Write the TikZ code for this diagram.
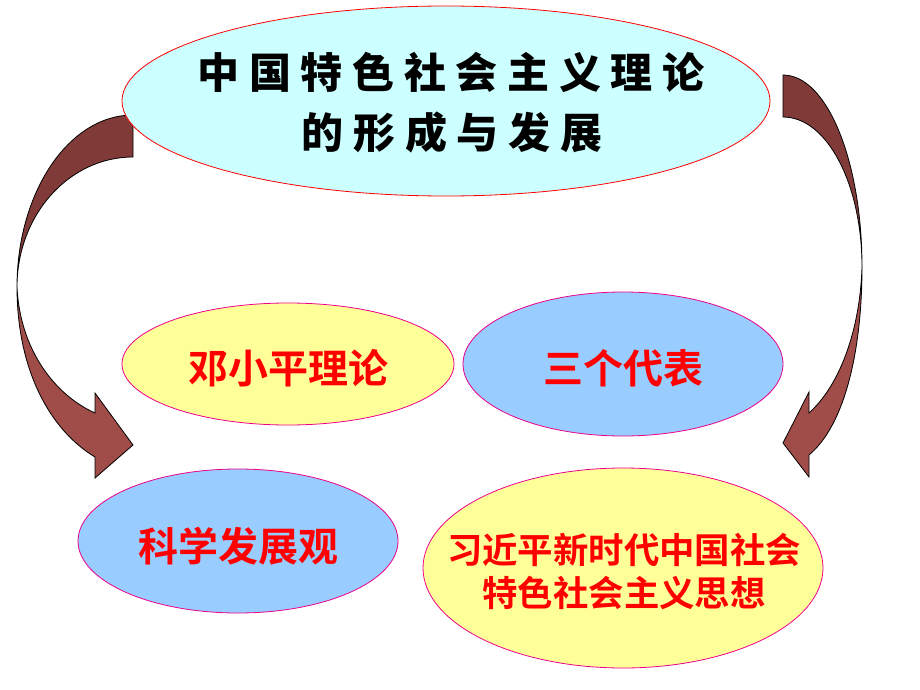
\documentclass[tikz,border=0pt]{standalone}
\usepackage{fontspec}
\usetikzlibrary{shapes.geometric}
\newfontfamily\titlefont[LetterSpace=23]{Noto Sans CJK SC Black}
\newfontfamily\redfont{Noto Sans CJK SC Bold}
\definecolor{titlefill}{HTML}{CCFFFF}
\definecolor{yelfill}{HTML}{FFFF99}
\definecolor{bluefill}{HTML}{99CCFF}
\definecolor{arrdark}{HTML}{803B39}
\definecolor{arrlight}{HTML}{A04C48}
\tikzset{
  oval/.style={ellipse, inner sep=0pt, line width=0.8pt},
  redtext/.style={text=red, font=\redfont\fontsize{40}{48}\selectfont, inner sep=0pt, align=center},
  titletext/.style={inner sep=0pt, font=\titlefont\fontsize{42}{60}\selectfont},
  arrowpart/.style={draw=black, line width=0.8pt, line join=miter}
}
\begin{document}
\begin{tikzpicture}[x=1pt,y=-1pt]
\useasboundingbox (0,0) rectangle (920,690);
\fill[white] (0,0) rectangle (920,690);
% curved block arrows
\filldraw[arrowpart, fill=arrdark] (133,115) .. controls (69,115) and (17,192) .. (17,287)
  .. controls (17,215) and (69,157) .. (133,157) -- cycle;
\filldraw[arrowpart, fill=arrlight] (17,287) .. controls (17,370) and (50,430) .. (95,457)
  -- (95,478) -- (133,445) -- (95,393) -- (95,413)
  .. controls (55,395) and (20,350) .. (17,287) -- cycle;
\filldraw[arrowpart, fill=arrdark] (783,75) .. controls (827,75) and (862,161) .. (862,267)
  .. controls (862,184) and (827,117) .. (783,117) -- cycle;
\filldraw[arrowpart, fill=arrlight] (862,267) .. controls (862,350) and (845,425) .. (809,455)
  -- (809,477) -- (783,443) -- (809,392) -- (809,413)
  .. controls (840,385) and (860,330) .. (862,267) -- cycle;
% ellipses
\node[oval, draw=red, fill=titlefill, minimum width=648pt, minimum height=190pt] (title) at (446,101) {};
\node[oval, draw=magenta, fill=yelfill, minimum width=332pt, minimum height=122pt] (deng) at (288,364) {};
\node[oval, draw=magenta, fill=bluefill, minimum width=320pt, minimum height=144pt] (sange) at (623,364) {};
\node[oval, draw=magenta, fill=bluefill, minimum width=320pt, minimum height=144pt] (kexue) at (238,541) {};
\node[oval, draw=magenta, fill=yelfill, minimum width=400pt, minimum height=200pt] (xi) at (623,568) {};
% texts
\node[titletext] (t1) at (451,72) {中国特色社会主义理论};
\node[titletext] (t2) at (452,132) {的形成与发展};
\node[redtext] (dengt) at (288,368) {邓小平理论};
\node[redtext] (sanget) at (623,368) {三个代表};
\node[redtext] (kexuet) at (238,546) {科学发展观};
\node[redtext, font=\redfont\fontsize{35.4}{43}\selectfont] (xit) at (624,571) {习近平新时代中国社会\\特色社会主义思想};
\end{tikzpicture}
\end{document}
